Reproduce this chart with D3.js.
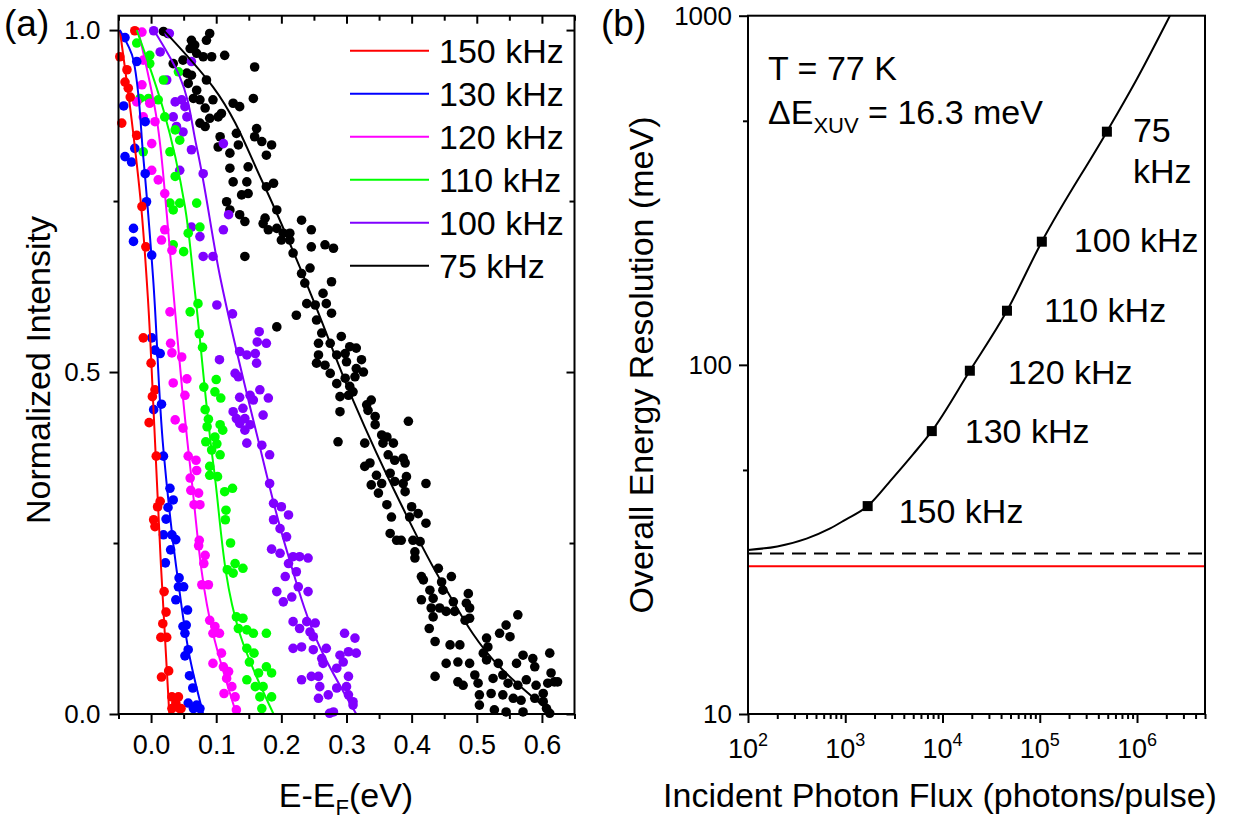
<!DOCTYPE html>
<html>
<head>
<meta charset="utf-8">
<script src="https://cdn.jsdelivr.net/npm/d3@7/dist/d3.min.js"></script>
<style>
body { margin: 0; background: #fff; }
svg text { font-family: "Liberation Sans", Arial, Helvetica, sans-serif; fill: #000; }
</style>
</head>
<body>
<svg id="chart" width="1234" height="822"></svg>
<script>
// ---------- panel (a): E-EF (eV) vs normalized intensity ----------
var seriesNames = ["150 kHz", "130 kHz", "120 kHz", "110 kHz", "100 kHz", "75 kHz"];

var pts150 = [[-0.025,0.999],[-0.048,0.961],[-0.037,0.942],[-0.040,0.924],[-0.035,0.915],[-0.032,0.902],[-0.045,0.864],[-0.022,0.846],[-0.014,0.742],[-0.008,0.683],[-0.012,0.550],[0.000,0.513],[0.006,0.474],[0.002,0.464],[-0.003,0.426],[0.008,0.377],[0.014,0.311],[0.010,0.303],[0.004,0.284],[0.006,0.274],[0.020,0.179],[0.023,0.149],[0.018,0.132],[0.015,0.112],[0.024,0.112],[0.016,0.054],[0.027,0.063],[0.032,0.025],[0.042,0.025],[0.032,0.008],[0.044,0.008],[0.038,0.016],[0.046,0.008]];
var fit150 = [[-0.048,1.0],[-0.030,0.87],[-0.015,0.74],[-0.005,0.61],[0.005,0.42],[0.015,0.22],[0.028,0.0]];

var pts130 = [[-0.040,0.989],[-0.022,0.954],[-0.042,0.889],[-0.009,0.866],[-0.025,0.827],[-0.040,0.815],[-0.030,0.807],[-0.009,0.790],[-0.007,0.749],[-0.027,0.710],[-0.027,0.691],[0.001,0.671],[0.001,0.550],[0.006,0.532],[0.014,0.527],[0.004,0.445],[0.016,0.453],[0.019,0.377],[0.029,0.330],[0.034,0.313],[0.026,0.302],[0.023,0.285],[0.019,0.262],[0.032,0.262],[0.038,0.255],[0.030,0.240],[0.022,0.221],[0.043,0.199],[0.042,0.186],[0.050,0.186],[0.038,0.167],[0.056,0.152],[0.049,0.128],[0.054,0.130],[0.052,0.118],[0.057,0.094],[0.052,0.085],[0.059,0.056],[0.064,0.038],[0.057,0.016],[0.070,0.013],[0.075,0.008],[0.065,0.008]];
var fit130 = [[-0.048,1.0],[-0.027,0.956],[-0.012,0.815],[0.003,0.639],[0.019,0.386],[0.042,0.191],[0.060,0.080],[0.080,0.0]];

var pts120 = [[-0.014,0.997],[-0.012,0.956],[-0.014,0.920],[-0.022,0.895],[-0.002,0.893],[0.006,0.866],[-0.012,0.873],[0.001,0.834],[0.001,0.795],[0.011,0.781],[0.021,0.761],[0.016,0.693],[0.032,0.678],[0.021,0.708],[0.029,0.588],[0.030,0.542],[0.032,0.528],[0.047,0.522],[0.034,0.484],[0.055,0.490],[0.052,0.466],[0.037,0.430],[0.049,0.418],[0.057,0.377],[0.069,0.371],[0.060,0.345],[0.070,0.356],[0.061,0.327],[0.073,0.323],[0.066,0.306],[0.075,0.306],[0.074,0.254],[0.073,0.246],[0.083,0.232],[0.081,0.220],[0.078,0.189],[0.088,0.189],[0.090,0.137],[0.098,0.128],[0.095,0.118],[0.105,0.118],[0.108,0.089],[0.095,0.074],[0.111,0.069],[0.119,0.062],[0.116,0.052],[0.124,0.040],[0.112,0.030],[0.129,0.025],[0.131,0.006]];
var fit120 = [[-0.020,1.0],[0.009,0.868],[0.024,0.732],[0.034,0.62],[0.060,0.362],[0.095,0.118],[0.131,0.0]];

var pts110 = [[-0.022,0.981],[-0.002,0.963],[-0.002,0.951],[0.042,0.939],[-0.017,0.900],[-0.004,0.900],[0.011,0.898],[0.019,0.927],[0.021,0.873],[0.037,0.854],[0.044,0.839],[-0.012,0.822],[0.029,0.822],[0.037,0.786],[0.029,0.747],[0.044,0.747],[0.070,0.747],[0.034,0.737],[0.075,0.712],[0.057,0.703],[0.034,0.686],[0.050,0.676],[0.072,0.600],[0.060,0.588],[0.074,0.556],[0.079,0.536],[0.100,0.489],[0.081,0.478],[0.098,0.471],[0.107,0.462],[0.083,0.445],[0.088,0.431],[0.086,0.420],[0.106,0.423],[0.110,0.415],[0.098,0.405],[0.084,0.398],[0.101,0.395],[0.093,0.386],[0.106,0.379],[0.090,0.362],[0.090,0.349],[0.102,0.347],[0.113,0.325],[0.125,0.330],[0.115,0.298],[0.114,0.284],[0.122,0.250],[0.117,0.211],[0.129,0.220],[0.141,0.213],[0.126,0.206],[0.131,0.142],[0.141,0.140],[0.134,0.125],[0.147,0.123],[0.157,0.118],[0.177,0.118],[0.147,0.096],[0.158,0.089],[0.151,0.076],[0.177,0.069],[0.165,0.060],[0.185,0.060],[0.147,0.050],[0.160,0.040],[0.172,0.040],[0.167,0.025],[0.185,0.025],[0.170,0.008]];
var fit110 = [[-0.022,1.0],[0.019,0.883],[0.052,0.742],[0.067,0.62],[0.096,0.362],[0.136,0.118],[0.188,0.0]];

var pts100 = [[0.004,0.999],[0.028,0.995],[0.014,0.968],[0.062,0.954],[0.024,0.927],[0.037,0.895],[0.047,0.898],[0.052,0.888],[0.034,0.873],[0.055,0.873],[0.039,0.859],[0.049,0.851],[0.062,0.825],[0.044,0.795],[0.080,0.790],[0.111,0.834],[0.119,0.730],[0.062,0.712],[0.075,0.698],[0.111,0.708],[0.080,0.669],[0.095,0.669],[0.101,0.598],[0.125,0.585],[0.166,0.559],[0.163,0.544],[0.177,0.542],[0.136,0.530],[0.147,0.525],[0.160,0.527],[0.105,0.518],[0.162,0.513],[0.129,0.498],[0.134,0.493],[0.167,0.474],[0.152,0.466],[0.136,0.463],[0.180,0.462],[0.157,0.459],[0.141,0.447],[0.126,0.442],[0.172,0.437],[0.131,0.432],[0.144,0.432],[0.136,0.425],[0.152,0.423],[0.144,0.415],[0.147,0.396],[0.170,0.393],[0.182,0.379],[0.182,0.337],[0.188,0.308],[0.200,0.303],[0.211,0.291],[0.188,0.284],[0.198,0.271],[0.208,0.259],[0.185,0.241],[0.198,0.235],[0.218,0.230],[0.228,0.230],[0.241,0.228],[0.211,0.220],[0.206,0.201],[0.223,0.208],[0.226,0.186],[0.193,0.179],[0.216,0.171],[0.203,0.164],[0.241,0.179],[0.218,0.135],[0.239,0.135],[0.252,0.133],[0.228,0.125],[0.244,0.120],[0.249,0.113],[0.297,0.118],[0.313,0.111],[0.218,0.096],[0.231,0.098],[0.249,0.094],[0.269,0.096],[0.262,0.081],[0.290,0.086],[0.303,0.091],[0.315,0.089],[0.264,0.074],[0.295,0.076],[0.285,0.067],[0.231,0.050],[0.246,0.055],[0.257,0.055],[0.303,0.055],[0.259,0.040],[0.285,0.038],[0.300,0.040],[0.272,0.028],[0.257,0.023],[0.303,0.028],[0.310,0.018],[0.310,0.013],[0.280,0.003],[0.274,0.001]];
var fit100 = [[0.004,1.0],[0.044,0.932],[0.070,0.829],[0.106,0.639],[0.162,0.410],[0.208,0.240],[0.259,0.098],[0.315,0.0]];

var pts75 = [[0.019,0.998],[0.026,0.995],[0.090,0.995],[0.085,0.985],[0.062,0.985],[0.067,0.978],[0.060,0.973],[0.070,0.966],[0.080,0.961],[0.093,0.961],[0.113,0.963],[0.049,0.956],[0.034,0.951],[0.159,0.946],[0.055,0.937],[0.062,0.934],[0.085,0.927],[0.057,0.922],[0.070,0.912],[0.065,0.900],[0.075,0.898],[0.095,0.898],[0.126,0.893],[0.136,0.888],[0.157,0.900],[0.083,0.886],[0.108,0.878],[0.090,0.871],[0.103,0.873],[0.075,0.864],[0.083,0.859],[0.106,0.844],[0.131,0.849],[0.162,0.856],[0.159,0.844],[0.170,0.837],[0.185,0.832],[0.103,0.829],[0.134,0.832],[0.121,0.820],[0.177,0.817],[0.121,0.798],[0.149,0.800],[0.126,0.778],[0.147,0.778],[0.188,0.776],[0.177,0.771],[0.149,0.761],[0.139,0.759],[0.116,0.749],[0.193,0.737],[0.121,0.737],[0.136,0.730],[0.144,0.720],[0.175,0.725],[0.180,0.708],[0.172,0.717],[0.193,0.710],[0.203,0.703],[0.213,0.703],[0.231,0.722],[0.200,0.693],[0.213,0.693],[0.218,0.674],[0.144,0.669],[0.246,0.683],[0.267,0.686],[0.244,0.652],[0.231,0.644],[0.246,0.708],[0.280,0.681],[0.236,0.630],[0.277,0.632],[0.264,0.615],
  [0.223,0.583],[0.193,0.566],[0.239,0.600],[0.252,0.598],[0.269,0.600],[0.277,0.586],[0.254,0.576],[0.262,0.557],[0.292,0.552],[0.275,0.542],[0.257,0.542],[0.305,0.537],[0.315,0.535],[0.298,0.527],[0.257,0.525],[0.285,0.525],[0.254,0.513],[0.300,0.515],[0.323,0.518],[0.267,0.510],[0.315,0.505],[0.275,0.498],[0.326,0.500],[0.298,0.491],[0.313,0.493],[0.285,0.483],[0.305,0.479],[0.310,0.471],[0.290,0.464],[0.303,0.466],[0.338,0.459],[0.331,0.452],[0.290,0.442],[0.333,0.444],[0.344,0.435],[0.344,0.423],[0.287,0.398],[0.328,0.396],[0.354,0.408],[0.362,0.405],[0.356,0.396],[0.372,0.396],[0.364,0.379],[0.336,0.367],[0.328,0.362],[0.374,0.371],[0.346,0.349],[0.367,0.352],[0.338,0.335],[0.374,0.340],[0.354,0.337],[0.349,0.323],[0.362,0.306],[0.369,0.288],[0.367,0.264],[0.377,0.254],
  [0.395,0.428],[0.387,0.374],[0.390,0.367],[0.392,0.347],[0.387,0.337],[0.390,0.325],[0.400,0.303],[0.397,0.288],[0.410,0.293],[0.422,0.337],[0.422,0.279],[0.384,0.254],[0.402,0.254],[0.413,0.252],[0.405,0.237],[0.405,0.228],[0.441,0.213],[0.415,0.201],[0.418,0.196],[0.446,0.193],[0.461,0.201],[0.428,0.181],[0.448,0.181],[0.487,0.176],[0.415,0.167],[0.433,0.169],[0.464,0.164],[0.484,0.162],[0.430,0.155],[0.443,0.155],[0.433,0.142],[0.453,0.150],[0.466,0.150],[0.489,0.155],[0.482,0.137],[0.427,0.125],[0.489,0.140],[0.563,0.145],[0.545,0.130],[0.535,0.118],[0.436,0.106],[0.459,0.101],[0.474,0.101],[0.515,0.111],[0.551,0.113],[0.517,0.098],[0.510,0.089],[0.453,0.074],[0.471,0.076],[0.489,0.074],[0.515,0.079],[0.533,0.074],[0.561,0.074],[0.571,0.086],[0.586,0.081],[0.589,0.069],[0.612,0.089],[0.614,0.060],[0.619,0.047],[0.609,0.045],[0.436,0.055],[0.471,0.047],[0.479,0.042],[0.497,0.057],[0.502,0.045],[0.525,0.052],[0.540,0.057],[0.548,0.045],[0.563,0.042],[0.576,0.050],[0.591,0.042],[0.602,0.030],[0.504,0.028],[0.522,0.030],[0.540,0.028],[0.556,0.023],[0.568,0.020],[0.589,0.023],[0.602,0.018],[0.504,0.013],[0.527,0.006],[0.545,0.003],[0.571,0.003],[0.607,0.008],[0.612,0.001],[0.624,0.047]];
var fit75 = [[0.019,1.0],[0.095,0.917],[0.172,0.776],[0.228,0.654],[0.249,0.605],[0.310,0.459],[0.382,0.310],[0.448,0.190],[0.535,0.069],[0.617,0.0]];

var xTicksA = [0, 0.1, 0.2, 0.3, 0.4, 0.5, 0.6];
var xMinorA = [-0.05, 0.05, 0.15, 0.25, 0.35, 0.45, 0.55, 0.65];
var yTicksA = [0, 0.5, 1.0];
var yMinorA = [0.25, 0.75];

// ---------- panel (b): photon flux vs overall resolution ----------
var markFlux = [1700, 7760, 19100, 46000, 105000, 490000];
var markRes = [39.4, 64.6, 96.2, 142.9, 225.3, 465.4];
var markLabels = [["150 kHz"], ["130 kHz"], ["120 kHz"], ["110 kHz"], ["100 kHz"], ["75", "kHz"]];
var curveFlux = [100, 200, 400, 700, 1000, 1700, 3000, 5000, 7760, 19100, 46000, 105000, 490000, 1000000, 2180000];
var curveRes = [29.5, 30.2, 31.8, 34.0, 36.0, 39.4, 47.0, 55.5, 64.6, 96.2, 142.9, 225.3, 465.4, 660, 1000];
var dashedRes = 28.8;   // black dashed level
var fermiRes = 26.5;    // red level
var xTicksB = [1e2, 1e3, 1e4, 1e5, 1e6];
var yTicksB = [10, 100, 1000];
var yMinorB = [50, 500];

// ---------- layout ----------
var svg = d3.select("#chart");
var TICKFONT = 27, LABFONT = 34;
var colors = ["#ff0000", "#0000ff", "#ff00ff", "#00ff00", "#8000ff", "#000000"];
var scatter = [pts150, pts130, pts120, pts110, pts100, pts75];
var fits = [fit150, fit130, fit120, fit110, fit100, fit75];

var A = {left: 118.5, right: 574.5, top: 15.7, bottom: 714};
var B = {left: 748, right: 1205, top: 15.7, bottom: 714};

var xA = d3.scaleLinear().domain([-0.05, 0.65]).range([A.left, A.right]);
var yA = d3.scaleLinear().domain([0, 1.021]).range([A.bottom, A.top]);
var xB = d3.scaleLog().domain([100, 5e6]).range([B.left, B.right]);
var yB = d3.scaleLog().domain([10, 1000]).range([B.bottom, B.top]);

function fixAxis(g, fs) {
    g.select(".domain").remove();
    g.attr("font-family", null).attr("font-size", null);
    g.selectAll(".tick line").attr("stroke", "#000").attr("stroke-width", 2);
    g.selectAll(".tick text").attr("fill", "#000").style("font-size", fs + "px");
}
function addAxis(axis, tx, ty, fs) {
    svg.append("g").attr("transform", "translate(" + tx + "," + ty + ")")
        .call(axis).call(function (g) { fixAxis(g, fs || TICKFONT); });
}

// ---- panel (a) marks ----
var gA = svg.append("g");
scatter.forEach(function (pts, i) {
    var k = scatter.length - 1 - i;   // black first, red last
    gA.append("g").selectAll("circle").data(scatter[k]).enter().append("circle")
        .attr("cx", function (d) { return xA(d[0]); })
        .attr("cy", function (d) { return yA(d[1]); })
        .attr("r", 4.8)
        .attr("fill", colors[k]);
});
var lineA = d3.line()
    .x(function (d) { return xA(d[0]); })
    .y(function (d) { return yA(d[1]); })
    .curve(d3.curveMonotoneY);
fits.forEach(function (f, i) {
    gA.append("path").datum(f).attr("d", lineA)
        .attr("fill", "none").attr("stroke", colors[i]).attr("stroke-width", 2);
});

// frame + axes (a)
svg.append("rect").attr("x", A.left).attr("y", A.top)
    .attr("width", A.right - A.left).attr("height", A.bottom - A.top)
    .attr("fill", "none").attr("stroke", "#000").attr("stroke-width", 2);
addAxis(d3.axisBottom(xA).tickValues(xTicksA).tickSize(9).tickPadding(12).tickFormat(d3.format(".1f")), 0, A.bottom);
addAxis(d3.axisBottom(xA).tickValues(xMinorA).tickSize(5).tickFormat(""), 0, A.bottom);
addAxis(d3.axisTop(xA).tickValues(xTicksA).tickSize(-8).tickFormat(""), 0, A.top);
addAxis(d3.axisTop(xA).tickValues(xMinorA).tickSize(-5).tickFormat(""), 0, A.top);
addAxis(d3.axisLeft(yA).tickValues(yTicksA).tickSize(9).tickPadding(9).tickFormat(d3.format(".1f")), A.left, 0, 26);
addAxis(d3.axisLeft(yA).tickValues(yMinorA).tickSize(5).tickFormat(""), A.left, 0);
addAxis(d3.axisRight(yA).tickValues(yTicksA).tickSize(-8).tickFormat(""), A.right, 0);
addAxis(d3.axisRight(yA).tickValues(yMinorA).tickSize(-5).tickFormat(""), A.right, 0);

// legend (a)
var leg = svg.append("g").attr("transform", "translate(350,50.7)");
seriesNames.forEach(function (name, i) {
    var row = leg.append("g").attr("transform", "translate(0," + (i * 43) + ")");
    row.append("line").attr("x1", 0).attr("x2", 79).attr("y1", 0).attr("y2", 0)
        .attr("stroke", colors[i]).attr("stroke-width", 2);
    row.append("text").attr("x", 89).attr("y", 12).style("font-size", LABFONT + "px").text(name);
});

// titles (a)
svg.append("text").attr("transform", "translate(50,370) rotate(-90)")
    .attr("text-anchor", "middle").style("font-size", LABFONT + "px").text("Normalized Intensity");
var xt = svg.append("text").attr("x", 346).attr("y", 807).attr("text-anchor", "middle")
    .style("font-size", LABFONT + "px");
xt.append("tspan").text("E-E");
xt.append("tspan").attr("dy", 8).style("font-size", "22px").text("F");
xt.append("tspan").attr("dy", -8).text("(eV)");
svg.append("text").attr("x", 4).attr("y", 36).style("font-size", "37px").text("(a)");

// ---- panel (b) marks ----
var gB = svg.append("g");
gB.append("line").attr("x1", B.left).attr("x2", B.right)
    .attr("y1", yB(fermiRes)).attr("y2", yB(fermiRes))
    .attr("stroke", "#ff0000").attr("stroke-width", 2);
gB.append("line").attr("x1", B.left).attr("x2", B.right)
    .attr("y1", yB(dashedRes)).attr("y2", yB(dashedRes))
    .attr("stroke", "#000").attr("stroke-width", 2).attr("stroke-dasharray", "14,8");
var lineB = d3.line()
    .x(function (d) { return xB(d); })
    .y(function (d, i) { return yB(curveRes[i]); })
    .curve(d3.curveMonotoneX);
gB.append("path").datum(curveFlux).attr("d", lineB)
    .attr("fill", "none").attr("stroke", "#000").attr("stroke-width", 2);
gB.selectAll("rect.mk").data(markFlux).enter().append("rect").attr("class", "mk")
    .attr("x", function (d) { return xB(d) - 5; })
    .attr("y", function (d, i) { return yB(markRes[i]) - 5; })
    .attr("width", 10).attr("height", 10).attr("fill", "#000");

// point labels, offset from their markers
var labDx = [31, 33, 38, 37, 32, 26];
var labDy = [17, 12, 13, 11, 10, 10];
markLabels.forEach(function (lines, i) {
    lines.forEach(function (s, j) {
        gB.append("text")
            .attr("x", xB(markFlux[i]) + labDx[i])
            .attr("y", yB(markRes[i]) + labDy[i] + j * 41)
            .style("font-size", LABFONT + "px").text(s);
    });
});

// frame + axes (b)
svg.append("rect").attr("x", B.left).attr("y", B.top)
    .attr("width", B.right - B.left).attr("height", B.bottom - B.top)
    .attr("fill", "none").attr("stroke", "#000").attr("stroke-width", 2);
var minorB = [];
xTicksB.forEach(function (d) {
    for (var k = 2; k <= 9; k++) if (k * d <= 5e6) minorB.push(k * d);
});
addAxis(d3.axisBottom(xB).tickValues(xTicksB).tickSize(9).tickFormat(""), 0, B.bottom);
addAxis(d3.axisBottom(xB).tickValues(minorB).tickSize(5).tickFormat(""), 0, B.bottom);
addAxis(d3.axisLeft(yB).tickValues(yTicksB).tickSize(9).tickPadding(7).tickFormat(d3.format("d")), B.left, 0, 26);
addAxis(d3.axisLeft(yB).tickValues(yMinorB).tickSize(5).tickFormat(""), B.left, 0);

xTicksB.forEach(function (d) {
    var t = svg.append("text").attr("x", xB(d)).attr("y", 758)
        .attr("text-anchor", "middle").style("font-size", TICKFONT + "px");
    t.append("tspan").text("10");
    t.append("tspan").attr("dy", -12).style("font-size", "18px").text(Math.round(Math.log10(d)));
});

// titles + notes (b)
svg.append("text").attr("transform", "translate(653,365) rotate(-90)")
    .attr("text-anchor", "middle").style("font-size", LABFONT + "px").text("Overall Energy Resolution (meV)");
svg.append("text").attr("x", 940).attr("y", 807).attr("text-anchor", "middle")
    .style("font-size", LABFONT + "px").text("Incident Photon Flux (photons/pulse)");
svg.append("text").attr("x", 601).attr("y", 36).style("font-size", "37px").text("(b)");
svg.append("text").attr("x", 768).attr("y", 80).style("font-size", LABFONT + "px").text("T = 77 K");
var de = svg.append("text").attr("x", 768).attr("y", 124).style("font-size", LABFONT + "px");
de.append("tspan").text("\u0394E");
de.append("tspan").attr("dy", 9).style("font-size", "22px").text("XUV");
de.append("tspan").attr("dy", -9).text(" = 16.3 meV");
</script>
</body>
</html>
